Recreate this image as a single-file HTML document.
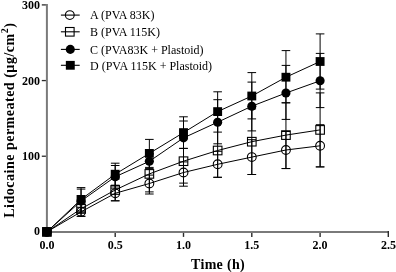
<!DOCTYPE html>
<html><head><meta charset="utf-8"><style>
html,body{margin:0;padding:0;background:#fff;}
svg{display:block;will-change:transform;filter:blur(0.3px);}
.tk{font-family:"Liberation Serif",serif;font-weight:bold;font-size:12px;fill:#000;}
.ti{font-family:"Liberation Serif",serif;font-weight:bold;font-size:14px;fill:#000;}
.lg{font-family:"Liberation Serif",serif;font-size:12px;fill:#000;}
</style></head><body>
<svg width="396" height="272" viewBox="0 0 396 272">
<rect width="396" height="272" fill="#fff"/>
<line x1="46.90" y1="4.00" x2="46.90" y2="232.90" stroke="#7a7a7a" stroke-width="2.0"/>
<line x1="45.90" y1="231.90" x2="389.00" y2="231.90" stroke="#7a7a7a" stroke-width="2.0"/>
<line x1="41.80" y1="156.23" x2="45.90" y2="156.23" stroke="#2a2a2a" stroke-width="1.3"/>
<line x1="41.80" y1="80.57" x2="45.90" y2="80.57" stroke="#2a2a2a" stroke-width="1.3"/>
<line x1="41.80" y1="4.90" x2="45.90" y2="4.90" stroke="#2a2a2a" stroke-width="1.3"/>
<line x1="115.20" y1="232.90" x2="115.20" y2="236.90" stroke="#2a2a2a" stroke-width="1.4"/>
<line x1="183.50" y1="232.90" x2="183.50" y2="236.90" stroke="#2a2a2a" stroke-width="1.4"/>
<line x1="251.80" y1="232.90" x2="251.80" y2="236.90" stroke="#2a2a2a" stroke-width="1.4"/>
<line x1="320.10" y1="232.90" x2="320.10" y2="236.90" stroke="#2a2a2a" stroke-width="1.4"/>
<line x1="388.30" y1="230.90" x2="388.30" y2="236.90" stroke="#2a2a2a" stroke-width="1.4"/>
<line x1="81.05" y1="207.30" x2="81.05" y2="216.30" stroke="#000" stroke-width="1"/>
<line x1="76.75" y1="207.30" x2="85.35" y2="207.30" stroke="#000" stroke-width="1"/>
<line x1="76.75" y1="216.30" x2="85.35" y2="216.30" stroke="#000" stroke-width="1"/>
<line x1="115.20" y1="185.80" x2="115.20" y2="200.80" stroke="#000" stroke-width="1"/>
<line x1="110.90" y1="185.80" x2="119.50" y2="185.80" stroke="#000" stroke-width="1"/>
<line x1="110.90" y1="200.80" x2="119.50" y2="200.80" stroke="#000" stroke-width="1"/>
<line x1="149.35" y1="175.10" x2="149.35" y2="191.90" stroke="#000" stroke-width="1"/>
<line x1="145.05" y1="175.10" x2="153.65" y2="175.10" stroke="#000" stroke-width="1"/>
<line x1="145.05" y1="191.90" x2="153.65" y2="191.90" stroke="#000" stroke-width="1"/>
<line x1="183.50" y1="161.90" x2="183.50" y2="183.10" stroke="#000" stroke-width="1"/>
<line x1="179.20" y1="161.90" x2="187.80" y2="161.90" stroke="#000" stroke-width="1"/>
<line x1="179.20" y1="183.10" x2="187.80" y2="183.10" stroke="#000" stroke-width="1"/>
<line x1="217.65" y1="151.30" x2="217.65" y2="177.30" stroke="#000" stroke-width="1"/>
<line x1="213.35" y1="151.30" x2="221.95" y2="151.30" stroke="#000" stroke-width="1"/>
<line x1="213.35" y1="177.30" x2="221.95" y2="177.30" stroke="#000" stroke-width="1"/>
<line x1="251.80" y1="139.70" x2="251.80" y2="174.50" stroke="#000" stroke-width="1"/>
<line x1="247.50" y1="139.70" x2="256.10" y2="139.70" stroke="#000" stroke-width="1"/>
<line x1="247.50" y1="174.50" x2="256.10" y2="174.50" stroke="#000" stroke-width="1"/>
<line x1="285.95" y1="131.50" x2="285.95" y2="168.50" stroke="#000" stroke-width="1"/>
<line x1="281.65" y1="131.50" x2="290.25" y2="131.50" stroke="#000" stroke-width="1"/>
<line x1="281.65" y1="168.50" x2="290.25" y2="168.50" stroke="#000" stroke-width="1"/>
<line x1="320.10" y1="124.70" x2="320.10" y2="166.90" stroke="#000" stroke-width="1"/>
<line x1="315.80" y1="124.70" x2="324.40" y2="124.70" stroke="#000" stroke-width="1"/>
<line x1="315.80" y1="166.90" x2="324.40" y2="166.90" stroke="#000" stroke-width="1"/>
<line x1="81.05" y1="201.30" x2="81.05" y2="216.30" stroke="#000" stroke-width="1"/>
<line x1="76.75" y1="201.30" x2="85.35" y2="201.30" stroke="#000" stroke-width="1"/>
<line x1="76.75" y1="216.30" x2="85.35" y2="216.30" stroke="#000" stroke-width="1"/>
<line x1="115.20" y1="179.20" x2="115.20" y2="200.80" stroke="#000" stroke-width="1"/>
<line x1="110.90" y1="179.20" x2="119.50" y2="179.20" stroke="#000" stroke-width="1"/>
<line x1="110.90" y1="200.80" x2="119.50" y2="200.80" stroke="#000" stroke-width="1"/>
<line x1="149.35" y1="153.80" x2="149.35" y2="194.00" stroke="#000" stroke-width="1"/>
<line x1="145.05" y1="153.80" x2="153.65" y2="153.80" stroke="#000" stroke-width="1"/>
<line x1="145.05" y1="194.00" x2="153.65" y2="194.00" stroke="#000" stroke-width="1"/>
<line x1="183.50" y1="136.20" x2="183.50" y2="186.20" stroke="#000" stroke-width="1"/>
<line x1="179.20" y1="136.20" x2="187.80" y2="136.20" stroke="#000" stroke-width="1"/>
<line x1="179.20" y1="186.20" x2="187.80" y2="186.20" stroke="#000" stroke-width="1"/>
<line x1="217.65" y1="123.00" x2="217.65" y2="177.30" stroke="#000" stroke-width="1"/>
<line x1="213.35" y1="123.00" x2="221.95" y2="123.00" stroke="#000" stroke-width="1"/>
<line x1="213.35" y1="177.30" x2="221.95" y2="177.30" stroke="#000" stroke-width="1"/>
<line x1="251.80" y1="108.90" x2="251.80" y2="174.50" stroke="#000" stroke-width="1"/>
<line x1="247.50" y1="108.90" x2="256.10" y2="108.90" stroke="#000" stroke-width="1"/>
<line x1="247.50" y1="174.50" x2="256.10" y2="174.50" stroke="#000" stroke-width="1"/>
<line x1="285.95" y1="102.80" x2="285.95" y2="168.60" stroke="#000" stroke-width="1"/>
<line x1="281.65" y1="102.80" x2="290.25" y2="102.80" stroke="#000" stroke-width="1"/>
<line x1="281.65" y1="168.60" x2="290.25" y2="168.60" stroke="#000" stroke-width="1"/>
<line x1="320.10" y1="92.90" x2="320.10" y2="166.90" stroke="#000" stroke-width="1"/>
<line x1="315.80" y1="92.90" x2="324.40" y2="92.90" stroke="#000" stroke-width="1"/>
<line x1="315.80" y1="166.90" x2="324.40" y2="166.90" stroke="#000" stroke-width="1"/>
<line x1="81.05" y1="189.10" x2="81.05" y2="212.90" stroke="#000" stroke-width="1"/>
<line x1="76.75" y1="189.10" x2="85.35" y2="189.10" stroke="#000" stroke-width="1"/>
<line x1="76.75" y1="212.90" x2="85.35" y2="212.90" stroke="#000" stroke-width="1"/>
<line x1="115.20" y1="165.50" x2="115.20" y2="188.10" stroke="#000" stroke-width="1"/>
<line x1="110.90" y1="165.50" x2="119.50" y2="165.50" stroke="#000" stroke-width="1"/>
<line x1="110.90" y1="188.10" x2="119.50" y2="188.10" stroke="#000" stroke-width="1"/>
<line x1="149.35" y1="154.00" x2="149.35" y2="168.60" stroke="#000" stroke-width="1"/>
<line x1="145.05" y1="154.00" x2="153.65" y2="154.00" stroke="#000" stroke-width="1"/>
<line x1="145.05" y1="168.60" x2="153.65" y2="168.60" stroke="#000" stroke-width="1"/>
<line x1="183.50" y1="121.00" x2="183.50" y2="148.40" stroke="#000" stroke-width="1"/>
<line x1="179.20" y1="121.00" x2="187.80" y2="121.00" stroke="#000" stroke-width="1"/>
<line x1="179.20" y1="148.40" x2="187.80" y2="148.40" stroke="#000" stroke-width="1"/>
<line x1="217.65" y1="99.70" x2="217.65" y2="143.80" stroke="#000" stroke-width="1"/>
<line x1="213.35" y1="99.70" x2="221.95" y2="99.70" stroke="#000" stroke-width="1"/>
<line x1="213.35" y1="143.80" x2="221.95" y2="143.80" stroke="#000" stroke-width="1"/>
<line x1="251.80" y1="82.10" x2="251.80" y2="130.90" stroke="#000" stroke-width="1"/>
<line x1="247.50" y1="82.10" x2="256.10" y2="82.10" stroke="#000" stroke-width="1"/>
<line x1="247.50" y1="130.90" x2="256.10" y2="130.90" stroke="#000" stroke-width="1"/>
<line x1="285.95" y1="65.40" x2="285.95" y2="119.40" stroke="#000" stroke-width="1"/>
<line x1="281.65" y1="65.40" x2="290.25" y2="65.40" stroke="#000" stroke-width="1"/>
<line x1="281.65" y1="119.40" x2="290.25" y2="119.40" stroke="#000" stroke-width="1"/>
<line x1="320.10" y1="53.40" x2="320.10" y2="107.60" stroke="#000" stroke-width="1"/>
<line x1="315.80" y1="53.40" x2="324.40" y2="53.40" stroke="#000" stroke-width="1"/>
<line x1="315.80" y1="107.60" x2="324.40" y2="107.60" stroke="#000" stroke-width="1"/>
<line x1="81.05" y1="187.60" x2="81.05" y2="211.20" stroke="#000" stroke-width="1"/>
<line x1="76.75" y1="187.60" x2="85.35" y2="187.60" stroke="#000" stroke-width="1"/>
<line x1="76.75" y1="211.20" x2="85.35" y2="211.20" stroke="#000" stroke-width="1"/>
<line x1="115.20" y1="163.20" x2="115.20" y2="185.20" stroke="#000" stroke-width="1"/>
<line x1="110.90" y1="163.20" x2="119.50" y2="163.20" stroke="#000" stroke-width="1"/>
<line x1="110.90" y1="185.20" x2="119.50" y2="185.20" stroke="#000" stroke-width="1"/>
<line x1="149.35" y1="139.40" x2="149.35" y2="167.40" stroke="#000" stroke-width="1"/>
<line x1="145.05" y1="139.40" x2="153.65" y2="139.40" stroke="#000" stroke-width="1"/>
<line x1="145.05" y1="167.40" x2="153.65" y2="167.40" stroke="#000" stroke-width="1"/>
<line x1="183.50" y1="116.80" x2="183.50" y2="148.40" stroke="#000" stroke-width="1"/>
<line x1="179.20" y1="116.80" x2="187.80" y2="116.80" stroke="#000" stroke-width="1"/>
<line x1="179.20" y1="148.40" x2="187.80" y2="148.40" stroke="#000" stroke-width="1"/>
<line x1="217.65" y1="91.80" x2="217.65" y2="132.10" stroke="#000" stroke-width="1"/>
<line x1="213.35" y1="91.80" x2="221.95" y2="91.80" stroke="#000" stroke-width="1"/>
<line x1="213.35" y1="132.10" x2="221.95" y2="132.10" stroke="#000" stroke-width="1"/>
<line x1="251.80" y1="72.60" x2="251.80" y2="118.90" stroke="#000" stroke-width="1"/>
<line x1="247.50" y1="72.60" x2="256.10" y2="72.60" stroke="#000" stroke-width="1"/>
<line x1="247.50" y1="118.90" x2="256.10" y2="118.90" stroke="#000" stroke-width="1"/>
<line x1="285.95" y1="50.60" x2="285.95" y2="102.80" stroke="#000" stroke-width="1"/>
<line x1="281.65" y1="50.60" x2="290.25" y2="50.60" stroke="#000" stroke-width="1"/>
<line x1="281.65" y1="102.80" x2="290.25" y2="102.80" stroke="#000" stroke-width="1"/>
<line x1="320.10" y1="33.90" x2="320.10" y2="89.10" stroke="#000" stroke-width="1"/>
<line x1="315.80" y1="33.90" x2="324.40" y2="33.90" stroke="#000" stroke-width="1"/>
<line x1="315.80" y1="89.10" x2="324.40" y2="89.10" stroke="#000" stroke-width="1"/>
<polyline points="46.90,231.90 81.05,211.80 115.20,193.30 149.35,183.50 183.50,172.50 217.65,164.30 251.80,157.10 285.95,150.00 320.10,145.80" fill="none" stroke="#000" stroke-width="1"/>
<polyline points="46.90,231.90 81.05,208.80 115.20,190.00 149.35,173.90 183.50,161.20 217.65,150.50 251.80,141.70 285.95,135.10 320.10,129.90" fill="none" stroke="#000" stroke-width="1"/>
<polyline points="46.90,231.90 81.05,201.00 115.20,176.80 149.35,161.30 183.50,137.90 217.65,122.20 251.80,106.20 285.95,93.00 320.10,80.80" fill="none" stroke="#000" stroke-width="1"/>
<polyline points="46.90,231.90 81.05,199.40 115.20,174.20 149.35,153.40 183.50,132.60 217.65,111.60 251.80,96.00 285.95,77.20 320.10,61.50" fill="none" stroke="#000" stroke-width="1"/>
<circle cx="46.90" cy="231.90" r="4.4" fill="none" stroke="#000" stroke-width="1.1"/>
<circle cx="81.05" cy="211.80" r="4.4" fill="none" stroke="#000" stroke-width="1.1"/>
<circle cx="115.20" cy="193.30" r="4.4" fill="none" stroke="#000" stroke-width="1.1"/>
<circle cx="149.35" cy="183.50" r="4.4" fill="none" stroke="#000" stroke-width="1.1"/>
<circle cx="183.50" cy="172.50" r="4.4" fill="none" stroke="#000" stroke-width="1.1"/>
<circle cx="217.65" cy="164.30" r="4.4" fill="none" stroke="#000" stroke-width="1.1"/>
<circle cx="251.80" cy="157.10" r="4.4" fill="none" stroke="#000" stroke-width="1.1"/>
<circle cx="285.95" cy="150.00" r="4.4" fill="none" stroke="#000" stroke-width="1.1"/>
<circle cx="320.10" cy="145.80" r="4.4" fill="none" stroke="#000" stroke-width="1.1"/>
<rect x="42.60" y="227.60" width="8.6" height="8.6" fill="none" stroke="#000" stroke-width="1.1"/>
<rect x="76.75" y="204.50" width="8.6" height="8.6" fill="none" stroke="#000" stroke-width="1.1"/>
<rect x="110.90" y="185.70" width="8.6" height="8.6" fill="none" stroke="#000" stroke-width="1.1"/>
<rect x="145.05" y="169.60" width="8.6" height="8.6" fill="none" stroke="#000" stroke-width="1.1"/>
<rect x="179.20" y="156.90" width="8.6" height="8.6" fill="none" stroke="#000" stroke-width="1.1"/>
<rect x="213.35" y="146.20" width="8.6" height="8.6" fill="none" stroke="#000" stroke-width="1.1"/>
<rect x="247.50" y="137.40" width="8.6" height="8.6" fill="none" stroke="#000" stroke-width="1.1"/>
<rect x="281.65" y="130.80" width="8.6" height="8.6" fill="none" stroke="#000" stroke-width="1.1"/>
<rect x="315.80" y="125.60" width="8.6" height="8.6" fill="none" stroke="#000" stroke-width="1.1"/>
<circle cx="46.90" cy="231.90" r="4.55" fill="#000"/>
<circle cx="81.05" cy="201.00" r="4.55" fill="#000"/>
<circle cx="115.20" cy="176.80" r="4.55" fill="#000"/>
<circle cx="149.35" cy="161.30" r="4.55" fill="#000"/>
<circle cx="183.50" cy="137.90" r="4.55" fill="#000"/>
<circle cx="217.65" cy="122.20" r="4.55" fill="#000"/>
<circle cx="251.80" cy="106.20" r="4.55" fill="#000"/>
<circle cx="285.95" cy="93.00" r="4.55" fill="#000"/>
<circle cx="320.10" cy="80.80" r="4.55" fill="#000"/>
<rect x="42.45" y="227.50" width="8.9" height="8.8" fill="#000"/>
<rect x="76.60" y="195.00" width="8.9" height="8.8" fill="#000"/>
<rect x="110.75" y="169.80" width="8.9" height="8.8" fill="#000"/>
<rect x="144.90" y="149.00" width="8.9" height="8.8" fill="#000"/>
<rect x="179.05" y="128.20" width="8.9" height="8.8" fill="#000"/>
<rect x="213.20" y="107.20" width="8.9" height="8.8" fill="#000"/>
<rect x="247.35" y="91.60" width="8.9" height="8.8" fill="#000"/>
<rect x="281.50" y="72.80" width="8.9" height="8.8" fill="#000"/>
<rect x="315.65" y="57.10" width="8.9" height="8.8" fill="#000"/>
<line x1="60.90" y1="15.10" x2="79.70" y2="15.10" stroke="#000" stroke-width="1.1"/>
<circle cx="69.80" cy="15.10" r="4.4" fill="none" stroke="#000" stroke-width="1.1"/>
<text x="90" y="19.40" class="lg">A (PVA 83K)</text>
<line x1="60.90" y1="31.80" x2="79.70" y2="31.80" stroke="#000" stroke-width="1.1"/>
<rect x="65.50" y="27.50" width="8.6" height="8.6" fill="none" stroke="#000" stroke-width="1.1"/>
<text x="90" y="36.10" class="lg">B (PVA 115K)</text>
<line x1="60.90" y1="49.40" x2="79.70" y2="49.40" stroke="#000" stroke-width="1.1"/>
<circle cx="70.30" cy="49.40" r="4.55" fill="#000"/>
<text x="90" y="53.70" class="lg">C (PVA83K + Plastoid)</text>
<line x1="60.90" y1="65.30" x2="79.70" y2="65.30" stroke="#000" stroke-width="1.1"/>
<rect x="65.85" y="60.90" width="8.9" height="8.8" fill="#000"/>
<text x="90" y="69.60" class="lg">D (PVA 115K + Plastoid)</text>
<text x="40" y="235.10" class="tk" text-anchor="end">0</text>
<text x="40" y="160.23" class="tk" text-anchor="end">100</text>
<text x="40" y="84.57" class="tk" text-anchor="end">200</text>
<text x="40" y="8.90" class="tk" text-anchor="end">300</text>
<text x="46.90" y="249.4" class="tk" text-anchor="middle">0.0</text>
<text x="115.20" y="249.4" class="tk" text-anchor="middle">0.5</text>
<text x="183.50" y="249.4" class="tk" text-anchor="middle">1.0</text>
<text x="251.80" y="249.4" class="tk" text-anchor="middle">1.5</text>
<text x="320.10" y="249.4" class="tk" text-anchor="middle">2.0</text>
<text x="388.40" y="249.4" class="tk" text-anchor="middle">2.5</text>
<text x="218.0" y="268.9" class="ti" text-anchor="middle" letter-spacing="0.3">Time (h)</text>
<text transform="translate(13.6,120.2) rotate(-90)" class="ti" text-anchor="middle" letter-spacing="0.5">Lidocaine permeated (&#181;g/cm<tspan dy="-6" font-size="10">2</tspan><tspan dy="6">)</tspan></text>
</svg>
</body></html>
